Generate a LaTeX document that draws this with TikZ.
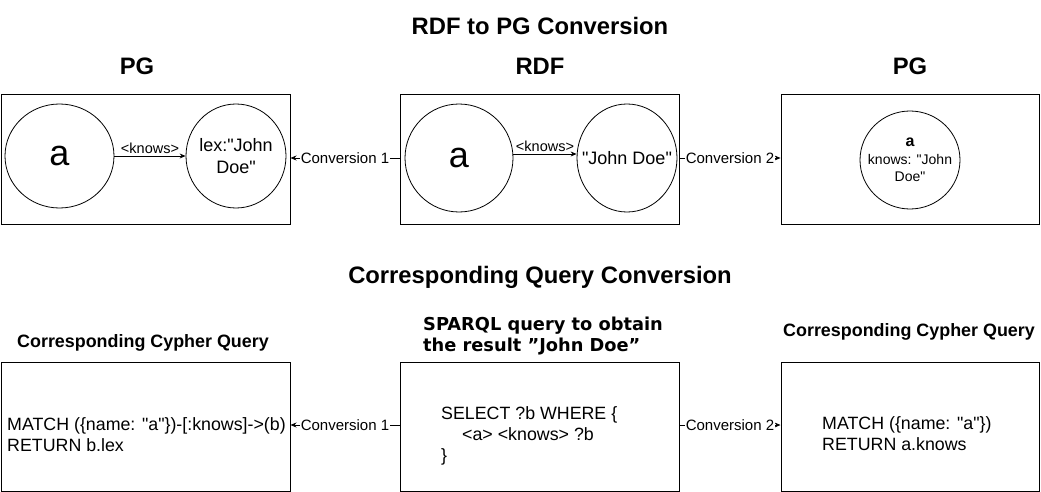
\documentclass[tikz,border=0pt]{standalone}
\usepackage{fontspec}
\setmainfont{Liberation Sans}[Ligatures=TeXOff]
\newfontfamily\djv{DejaVu Sans}
\usetikzlibrary{shapes.geometric,arrows.meta}
\begin{document}
\begin{tikzpicture}[x=1pt,y=-1pt,
  box/.style={draw, line width=1pt, inner sep=0pt},
  circ/.style={draw, ellipse, line width=0.8pt, inner sep=0pt},
  ctext/.style={align=center, inner sep=0pt},
  arr/.style={-{Stealth[length=6pt,width=5pt]}, line width=0.8pt},
  lbl/.style={fill=white, inner sep=1pt, font=\fontsize{15}{17}\selectfont},
  ttl/.style={font=\bfseries\fontsize{23.8}{28}\selectfont},
  sub/.style={font=\bfseries\fontsize{17.9}{21}\selectfont},
  code/.style={anchor=west, align=left, inner sep=0pt, font=\fontsize{17.8}{21}\selectfont}]
\useasboundingbox (0,0) rectangle (1041,492);
% titles
\node[ttl] (t1) at (540,26) {RDF to PG Conversion};
\node[ttl] (h1) at (137,66) {PG};
\node[ttl] (h2) at (540,66) {RDF};
\node[ttl] (h3) at (910,66) {PG};
\node[ttl] (t2) at (540,277) {Corresponding Query Conversion};
% top boxes
\node[box, minimum width=289pt, minimum height=129pt] (tl) at (145.5,159.5) {};
\node[box, minimum width=279pt, minimum height=129pt] (tm) at (539.5,159.5) {};
\node[box, minimum width=258pt, minimum height=129pt] (tr) at (910,159.5) {};
% circles
\node[circ, minimum width=109pt, minimum height=104pt] (la) at (59.5,156) {};
\node[ctext, font=\fontsize{36}{40}\selectfont] (lat) at (la.center) {a};
\node[circ, minimum width=100pt, minimum height=104pt] (lb) at (236,156) {};
\node[ctext, font=\fontsize{18}{22.5}\selectfont] (lbt) at (lb.center) {lex:"John\\Doe"};
\node[circ, minimum width=108pt, minimum height=108pt] (ma) at (459,158) {};
\node[ctext, font=\fontsize{36}{40}\selectfont] (mat) at (ma.center) {a};
\node[circ, minimum width=100pt, minimum height=108pt] (mb) at (627,158) {};
\node[ctext, font=\fontsize{18}{22}\selectfont] (mbt) at (mb.center) {"John Doe"};
\node[circ, minimum width=100pt, minimum height=98pt] (rc) at (910,160) {};
\node[ctext, font=\fontsize{14}{17.5}\selectfont] (rct) at (rc.center) {{\bfseries\fontsize{16}{18}\selectfont a}\\knows: "John\\Doe"};
% edges inside
\draw[arr] (la.east) -- node[above, inner sep=2pt, font=\fontsize{14.5}{16}\selectfont] (k1) {<knows>} (lb.west);
\draw[arr] (ma.east |- 0,154) -- node[above, inner sep=2pt, font=\fontsize{14.5}{16}\selectfont] (k2) {<knows>} (mb.west |- 0,154);
% conversions top
\draw[arr] (tm.west |- 0,158) -- node[lbl] (c1) {Conversion 1} (tl.east |- 0,158);
\draw[arr] (tm.east |- 0,158) -- node[lbl] (c2) {Conversion 2} (tr.west |- 0,158);
% bottom
\node[sub] (q1) at (143,343) {Corresponding Cypher Query};
\node[sub] (q3) at (909,332) {Corresponding Cypher Query};
\node[anchor=west, align=left, inner sep=0pt, font=\djv\bfseries\fontsize{17.8}{21}\selectfont] (q2) at (423,336.5) {SPARQL query to obtain\\the result ”John Doe”};
\node[box, minimum width=289pt, minimum height=129pt] (bl) at (145.5,426.5) {};
\node[box, minimum width=279pt, minimum height=129pt] (bm) at (539.5,426.5) {};
\node[box, minimum width=258pt, minimum height=129pt] (br) at (910,426.5) {};
\node[code] (x1) at (7,434.5) {MATCH (\{name: "a"\})-[:knows]->(b)\\RETURN b.lex};
\node[code] (x2) at (441,436) {SELECT ?b WHERE \{\\\hspace*{21pt}<a> <knows> ?b\\\}};
\node[code] (x3) at (822,434) {MATCH (\{name: "a"\})\\RETURN a.knows};
\draw[arr] (bm.west |- 0,425) -- node[lbl] (c3) {Conversion 1} (bl.east |- 0,425);
\draw[arr] (bm.east |- 0,425) -- node[lbl] (c4) {Conversion 2} (br.west |- 0,425);
\end{tikzpicture}
\end{document}
